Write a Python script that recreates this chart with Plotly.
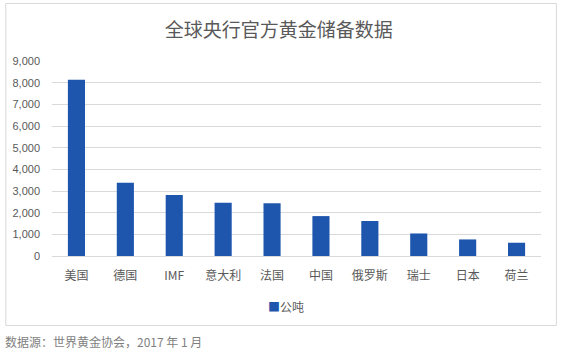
import plotly.graph_objects as go

categories = ["美国", "德国", "IMF", "意大利", "法国", "中国", "俄罗斯", "瑞士", "日本", "荷兰"]
tonnes = [8134, 3378, 2814, 2452, 2436, 1842, 1615, 1040, 765, 612]
y_ticks = [0, 1000, 2000, 3000, 4000, 5000, 6000, 7000, 8000, 9000]
y_tick_labels = ["0", "1,000", "2,000", "3,000", "4,000", "5,000", "6,000", "7,000", "8,000", "9,000"]
series_name = "公吨"
title_text = "全球央行官方黄金储备数据"
source_text = "数据源：世界黄金协会，2017 年 1 月"

W, H = 561, 354
L, R, T, B = 49, 20, 61, 98
pw, ph = W - L - R, H - T - B

def px_x(x):
    return (x - L) / pw

def px_y(y):
    return (H - B - y) / ph

font_family = "Noto Sans CJK SC, Noto Sans, sans-serif"
grey = "#595959"
bar_color = "#1f56ad"

fig = go.Figure()
fig.add_trace(go.Bar(
    x=categories, y=tonnes, name=series_name,
    marker=dict(color=bar_color, line=dict(width=0)),
    showlegend=False,
))

fig.update_layout(
    width=W, height=H,
    margin=dict(l=L, r=R, t=T, b=B, pad=0),
    paper_bgcolor="white", plot_bgcolor="white",
    font=dict(family=font_family, color=grey, size=12),
    bargap=0.65,
    title=dict(text=title_text, x=0.497, xanchor="center", y=1 - 30 / H, yanchor="middle",
               font=dict(size=19, color=grey, family=font_family)),
    xaxis=dict(showline=True, linecolor="#d9d9d9", linewidth=1, ticks="",
               tickfont=dict(size=12, color=grey), showgrid=False, fixedrange=True,
               ticklabelstandoff=9),
    yaxis=dict(range=[0, 9000], tickvals=y_ticks, ticktext=y_tick_labels,
               showgrid=True, gridcolor="#d9d9d9", gridwidth=1, zeroline=False,
               tickfont=dict(size=11, color=grey, family="Liberation Sans, sans-serif"),
               ticklabelstandoff=11, showline=False),
    showlegend=False,
)

# legend entry (series swatch + name)
fig.add_annotation(text=f'<span style="color:{bar_color}">■</span>{series_name}',
                   xref="paper", yref="paper", x=px_x(264), xanchor="left",
                   y=px_y(306), yanchor="middle", showarrow=False,
                   font=dict(size=12, color=grey, family=font_family))

fig.add_shape(type="rect", xref="paper", yref="paper",
              x0=px_x(2.5), x1=px_x(556.5), y0=px_y(325.5), y1=px_y(3.5),
              line=dict(color="#d9d9d9", width=1), fillcolor="rgba(0,0,0,0)", layer="below")

fig.add_annotation(text=source_text, xref="paper", yref="paper",
                   x=px_x(0), xanchor="left", y=px_y(341), yanchor="middle",
                   showarrow=False, font=dict(size=12, color="#7f7f7f", family=font_family))

fig.write_html("out.html")
